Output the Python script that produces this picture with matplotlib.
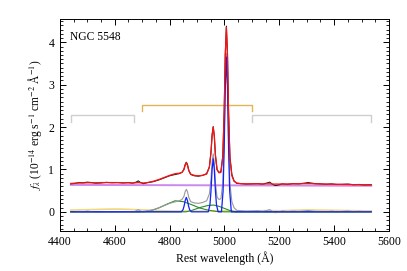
import matplotlib
matplotlib.use("Agg")
import matplotlib.pyplot as plt
from matplotlib.ticker import MultipleLocator

# ---------------- data ----------------
wave = [4440, 4455, 4470, 4485, 4500, 4515, 4530, 4550, 4570, 4590, 4610, 4630,
        4650, 4665, 4678, 4686, 4694, 4705, 4720, 4740, 4760, 4780, 4800, 4820,
        4835, 4845, 4852, 4857, 4861, 4865, 4870, 4877, 4890, 4905, 4920, 4935,
        4945, 4951, 4955, 4959, 4963, 4967, 4973, 4980, 4987, 4994, 4999, 5003,
        5007, 5011, 5015, 5020, 5027, 5035, 5045, 5060, 5080, 5100, 5120, 5140,
        5155, 5165, 5175, 5185, 5195, 5210, 5230, 5250, 5270, 5290, 5305, 5315,
        5330, 5350, 5370, 5390, 5410, 5430, 5450, 5470, 5490, 5510, 5535]

observed = [0.66, 0.67, 0.69, 0.685, 0.70, 0.69, 0.675, 0.68, 0.695, 0.685, 0.69, 0.68,
            0.69, 0.675, 0.70, 0.73, 0.69, 0.665, 0.69, 0.71, 0.75, 0.80, 0.85, 0.88,
            0.90, 0.93, 1.00, 1.12, 1.17, 1.12, 0.98, 0.88, 0.85, 0.84, 0.86, 0.90,
            1.06, 1.42, 1.82, 2.01, 1.78, 1.33, 0.99, 0.93, 0.95, 1.32, 2.38, 3.72,
            4.38, 3.72, 2.35, 1.30, 0.88, 0.73, 0.67, 0.665, 0.655, 0.66, 0.665, 0.655,
            0.68, 0.70, 0.65, 0.62, 0.63, 0.66, 0.65, 0.665, 0.66, 0.675, 0.69, 0.68,
            0.665, 0.66, 0.65, 0.66, 0.645, 0.65, 0.655, 0.64, 0.645, 0.635, 0.64]

model = [0.67, 0.675, 0.68, 0.68, 0.685, 0.685, 0.685, 0.69, 0.69, 0.69, 0.69, 0.685,
         0.685, 0.68, 0.685, 0.69, 0.685, 0.68, 0.69, 0.72, 0.76, 0.81, 0.86, 0.90,
         0.91, 0.93, 0.99, 1.10, 1.16, 1.10, 0.97, 0.89, 0.86, 0.85, 0.86, 0.89,
         1.05, 1.40, 1.80, 2.00, 1.80, 1.35, 1.00, 0.92, 0.93, 1.30, 2.35, 3.70,
         4.35, 3.70, 2.30, 1.25, 0.85, 0.72, 0.68, 0.665, 0.66, 0.66, 0.66, 0.655,
         0.66, 0.66, 0.655, 0.655, 0.655, 0.655, 0.655, 0.66, 0.66, 0.665, 0.665, 0.665,
         0.66, 0.655, 0.655, 0.65, 0.65, 0.645, 0.645, 0.64, 0.64, 0.635, 0.635]

emission = [-0.015, -0.01, 0.01, 0.0, 0.017, 0.003, -0.014, -0.011, 0.003, -0.01, -0.004, -0.01,
            0.004, -0.007, 0.021, 0.053, 0.017, -0.006, 0.025, 0.048, 0.093, 0.146, 0.20, 0.235,
            0.26, 0.29, 0.36, 0.48, 0.53, 0.48, 0.34, 0.24, 0.21, 0.20, 0.22, 0.26,
            0.42, 0.78, 1.18, 1.37, 1.14, 0.69, 0.35, 0.29, 0.31, 0.68, 1.74, 3.08,
            3.74, 3.08, 1.71, 0.66, 0.24, 0.095, 0.035, 0.025, 0.015, 0.02, 0.025, 0.012,
            0.032, 0.052, 0.005, -0.022, -0.011, 0.02, 0.007, 0.017, 0.008, 0.02, 0.033, 0.023,
            0.01, 0.008, 0.0, 0.015, 0.002, 0.01, 0.018, 0.005, 0.012, 0.005, 0.01]

cont_wave = [4440, 5535]
continuum = [0.635, 0.615]

feii_wave = [4440, 4500, 4560, 4600, 4640, 4680, 4720, 4760, 4800, 4900, 5000, 5100,
             5160, 5200, 5250, 5300, 5350, 5400, 5450, 5535]
feii = [0.04, 0.05, 0.06, 0.065, 0.06, 0.05, 0.04, 0.03, 0.02, 0.015, 0.02, 0.02,
        0.03, 0.025, 0.035, 0.045, 0.04, 0.035, 0.03, 0.02]

narrow_wave = [4440, 4843, 4849, 4853, 4857, 4861, 4865, 4869, 4873, 4879,
               4941, 4947, 4951, 4955, 4959, 4963, 4967, 4971, 4977,
               4989, 4995, 4999, 5003, 5007, 5011, 5015, 5019, 5025, 5535]
narrow = [0, 0, 0.05, 0.14, 0.27, 0.34, 0.27, 0.14, 0.05, 0,
          0, 0.16, 0.50, 1.00, 1.25, 1.00, 0.50, 0.16, 0,
          0, 0.49, 1.50, 2.92, 3.65, 2.92, 1.50, 0.49, 0, 0]

broad1_wave = [4440, 4690, 4728, 4760, 4790, 4820, 4850, 4880, 4910, 4940, 4970, 5000, 5535]
broad1 = [0, 0, 0.02, 0.09, 0.18, 0.26, 0.24, 0.17, 0.09, 0.04, 0.01, 0, 0]

broad2_wave = [4440, 4860, 4880, 4910, 4940, 4960, 4980, 5000, 5020, 5040, 5535]
broad2 = [0, 0, 0.03, 0.10, 0.15, 0.16, 0.13, 0.08, 0.03, 0, 0]

bracket_left = [4440, 4670]
bracket_mid = [4700, 5100]
bracket_right = [5100, 5535]

xticks = [4400, 4600, 4800, 5000, 5200, 5400, 5600]
yticks = [0, 1, 2, 3, 4]

# ---------------- figure ----------------
plt.rcParams['font.family'] = ['Liberation Serif', 'DejaVu Serif']
plt.rcParams['mathtext.fontset'] = 'stix'

fig = plt.figure(figsize=(4.07, 2.71), dpi=100)
ax = fig.add_axes([0.147, 0.148, 0.809, 0.782])

ax.plot(cont_wave, continuum, color='#cc88ee', lw=1.4, zorder=2)
ax.plot(feii_wave, feii, color='#f2d870', lw=1.2, zorder=2)
ax.plot(broad1_wave, broad1, color='#2a8a2a', lw=0.8, zorder=3)
ax.plot(broad2_wave, broad2, color='#2a8a2a', lw=0.8, zorder=3)
ax.plot(wave, emission, color='#999999', lw=0.8, zorder=3)
ax.plot(narrow_wave, narrow, color='#1020ff', lw=0.9, zorder=4)
ax.plot(wave, observed, color='#202020', lw=0.8, zorder=5)
ax.plot(wave, model, color='#ff1010', lw=0.9, zorder=6)

def bracket(xr, y, h, color):
    ax.plot([xr[0], xr[0], xr[1], xr[1]], [y - h, y, y, y - h], color=color, lw=1.0, zorder=1)

bracket(bracket_left, 2.28, 0.15, '#cfcfcf')
bracket(bracket_mid, 2.53, 0.15, '#e2b458')
bracket(bracket_right, 2.28, 0.15, '#cfcfcf')

ax.set_xlim(4400, 5600)
ax.set_ylim(-0.45, 4.55)
ax.set_xticks(xticks)
ax.set_yticks(yticks)
ax.xaxis.set_minor_locator(MultipleLocator(50))
ax.yaxis.set_minor_locator(MultipleLocator(0.1))
ax.tick_params(which='both', direction='in', top=True, right=True, labelsize=8.5)
ax.tick_params(which='major', length=4, width=0.7, pad=4)
ax.tick_params(which='minor', length=2, width=0.6)
for s in ax.spines.values():
    s.set_linewidth(0.7)

ax.text(0.032, 0.945, 'NGC 5548', transform=ax.transAxes, fontsize=8.3, va='top', ha='left')
ax.set_xlabel('Rest wavelength (Å)', fontsize=8.5, labelpad=2)
ax.set_ylabel(r'$f_\lambda$ (10$^{-14}$ erg s$^{-1}$ cm$^{-2}$ Å$^{-1}$)', fontsize=8.3, labelpad=3)

fig.savefig('out.png', dpi=100)
